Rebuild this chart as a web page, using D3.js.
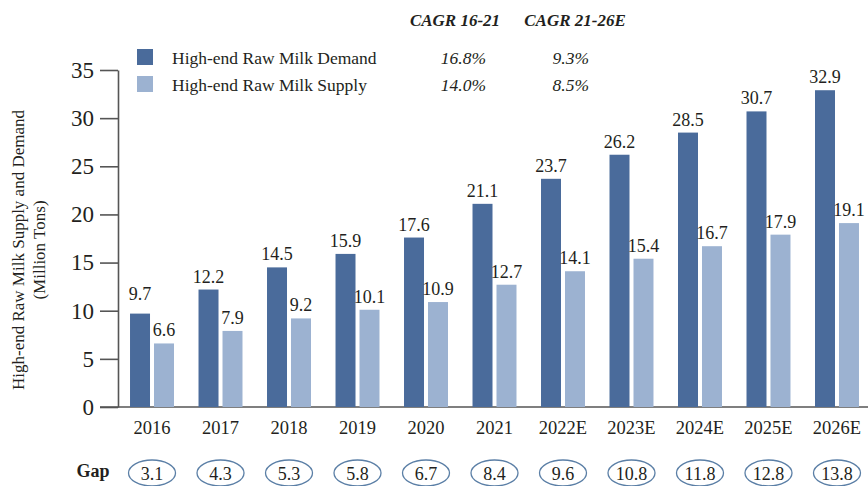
<!DOCTYPE html>
<html>
<head>
<meta charset="utf-8">
<script src="https://cdn.jsdelivr.net/npm/d3@7"></script>
<style>
  body { margin: 0; background: #fff; }
  svg { display: block; font-family: "Liberation Serif", "Times New Roman", serif; }
</style>
</head>
<body>
<svg id="chart" width="868" height="486"></svg>
<script>
// data
var years = ["2016", "2017", "2018", "2019", "2020", "2021", "2022E", "2023E", "2024E", "2025E", "2026E"];
var demand = [9.7, 12.2, 14.5, 15.9, 17.6, 21.1, 23.7, 26.2, 28.5, 30.7, 32.9];
var supply = [6.6, 7.9, 9.2, 10.1, 10.9, 12.7, 14.1, 15.4, 16.7, 17.9, 19.1];
var gap = [3.1, 4.3, 5.3, 5.8, 6.7, 8.4, 9.6, 10.8, 11.8, 12.8, 13.8];
var seriesNames = ["High-end Raw Milk Demand", "High-end Raw Milk Supply"];
var cagrHeaders = ["CAGR 16-21", "CAGR 21-26E"];
var cagrDemand = ["16.8%", "9.3%"];
var cagrSupply = ["14.0%", "8.5%"];
var yTicks = [0, 5, 10, 15, 20, 25, 30, 35];

var colors = ["#4a6b9b", "#9cb2d1"];
var textColor = "#231f20";
var serif = "'Liberation Serif', 'Times New Roman', serif";

var svg = d3.select("#chart");

// scales
var x = d3.scaleBand().domain(years).range([105.5, 883.5]).padding(0.358);
var xSub = d3.scaleBand().domain([0, 1]).range([0, x.bandwidth()]).paddingInner(1 / 6);
var y = d3.scaleLinear().domain([0, 35]).range([407, 70]);

// y axis
var yAxis = svg.append("g")
  .attr("transform", "translate(118,0)")
  .call(d3.axisLeft(y).tickValues(yTicks).tickSize(18).tickSizeOuter(0).tickPadding(6));
yAxis.attr("font-family", null);
yAxis.select(".domain").attr("stroke", "#555").attr("stroke-width", 1.6);
yAxis.selectAll(".tick line").attr("stroke", "#555").attr("stroke-width", 1.6);
yAxis.selectAll(".tick text")
  .attr("fill", textColor)
  .style("font-family", serif)
  .style("font-size", "23px");

// x baseline
svg.append("line")
  .attr("x1", 100).attr("x2", 868)
  .attr("y1", y(0)).attr("y2", y(0))
  .attr("stroke", "#555").attr("stroke-width", 1.6);

// bars
var groups = svg.selectAll("g.year")
  .data(years)
  .enter()
  .append("g")
  .attr("class", "year")
  .attr("transform", function(d) { return "translate(" + x(d) + ",0)"; });

[demand, supply].forEach(function(series, s) {
  groups.append("rect")
    .attr("x", xSub(s))
    .attr("width", xSub.bandwidth())
    .attr("y", function(d, i) { return y(series[i]); })
    .attr("height", function(d, i) { return y(0) - y(series[i]); })
    .attr("fill", colors[s]);
  groups.append("text")
    .attr("x", xSub(s) + xSub.bandwidth() / 2)
    .attr("y", function(d, i) {
      // first demand label sits a little higher in the original
      return y(series[i]) - (s === 0 && i === 0 ? 14 : 7);
    })
    .attr("text-anchor", "middle")
    .attr("fill", textColor)
    .style("font-size", "18px")
    .text(function(d, i) { return series[i].toFixed(1); });
});

// category labels
groups.append("text")
  .attr("x", x.bandwidth() / 2)
  .attr("y", 434)
  .attr("text-anchor", "middle")
  .attr("fill", textColor)
  .style("font-size", "18.5px")
  .text(function(d) { return d; });

// gap row
groups.append("ellipse")
  .attr("cx", x.bandwidth() / 2)
  .attr("cy", 473)
  .attr("rx", 23.5)
  .attr("ry", 13)
  .attr("fill", "none")
  .attr("stroke", "#5b7fa6")
  .attr("stroke-width", 1.3);
groups.append("text")
  .attr("x", x.bandwidth() / 2)
  .attr("y", 480)
  .attr("text-anchor", "middle")
  .attr("fill", textColor)
  .style("font-size", "18px")
  .text(function(d, i) { return gap[i].toFixed(1); });

svg.append("text")
  .attr("x", 93).attr("y", 477)
  .attr("text-anchor", "middle")
  .attr("fill", textColor)
  .style("font-size", "18px")
  .style("font-weight", "bold")
  .text("Gap");

// y axis title
var yTitle = svg.append("text")
  .attr("transform", "translate(24,250) rotate(-90)")
  .attr("text-anchor", "middle")
  .attr("fill", textColor)
  .style("font-size", "17px");
yTitle.append("tspan").attr("x", 0).attr("dy", 0).text("High-end Raw Milk Supply and Demand");
yTitle.append("tspan").attr("x", 0).attr("dy", 21).text("(Million Tons)");

// legend
var legend = svg.selectAll("g.legend")
  .data(seriesNames)
  .enter()
  .append("g")
  .attr("class", "legend")
  .attr("transform", function(d, i) { return "translate(137," + (49 + i * 27) + ")"; });
legend.append("rect")
  .attr("width", 16).attr("height", 16)
  .attr("fill", function(d, i) { return colors[i]; });
legend.append("text")
  .attr("x", 35).attr("y", 15)
  .attr("fill", textColor)
  .style("font-size", "17.5px")
  .text(function(d) { return d; });

// CAGR columns
var headX = [455, 575];
var valX = [486, 589];
svg.selectAll("text.cagrHead")
  .data(cagrHeaders)
  .enter()
  .append("text")
  .attr("class", "cagrHead")
  .attr("x", function(d, i) { return headX[i]; })
  .attr("y", 26)
  .attr("text-anchor", "middle")
  .attr("fill", textColor)
  .style("font-size", "17px")
  .style("font-weight", "bold")
  .style("font-style", "italic")
  .text(function(d) { return d; });
[cagrDemand, cagrSupply].forEach(function(vals, r) {
  svg.selectAll("text.cagr" + r)
    .data(vals)
    .enter()
    .append("text")
    .attr("class", "cagr" + r)
    .attr("x", function(d, i) { return valX[i]; })
    .attr("y", 64 + r * 27)
    .attr("text-anchor", "end")
    .attr("fill", textColor)
    .style("font-size", "17.5px")
    .style("font-style", "italic")
    .text(function(d) { return d; });
});
</script>
</body>
</html>
